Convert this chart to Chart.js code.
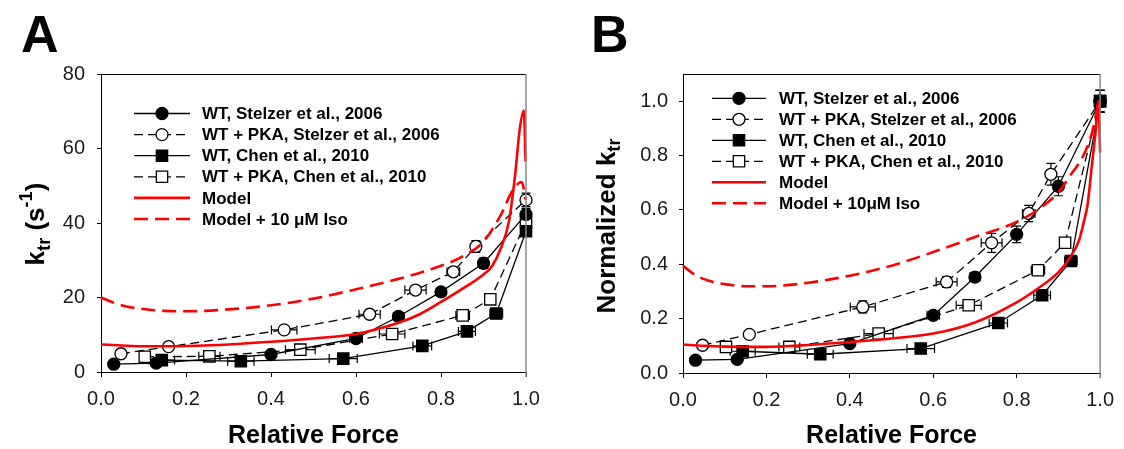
<!DOCTYPE html>
<html>
<head>
<meta charset="utf-8">
<script src="https://cdn.jsdelivr.net/npm/chart.js@4.4.0/dist/chart.umd.min.js"></script>
<style>
  body { margin: 0; background: #fff; }
  #wrap { position: relative; width: 1124px; height: 449px; font-family: "Liberation Sans", Arial, sans-serif; color: #000; }
  canvas { position: absolute; top: 0; }
  .letter { position: absolute; top: 8px; font-weight: bold; font-size: 52px; line-height: 52px; }
  .ytitle { position: absolute; font-weight: bold; font-size: 26px; line-height: 1; white-space: nowrap; transform: translate(-50%, -50%) rotate(-90deg); }
  .ytitle sub { font-size: 0.7em; vertical-align: -0.3em; }
  .ytitle sup { font-size: 0.7em; vertical-align: 0.65em; }
</style>
</head>
<body>
<div id="wrap">
  <canvas id="chartA" width="560" height="449" style="left:0;width:560px;height:449px"></canvas>
  <canvas id="chartB" width="564" height="449" style="left:560px;width:564px;height:449px"></canvas>
  <div class="letter" style="left:21px">A</div>
  <div class="letter" style="left:591px">B</div>
  <div class="ytitle" style="left:35px;top:224px">k<sub>tr</sub> (s<sup>-1</sup>)</div>
  <div class="ytitle" style="left:608px;top:226px">Normalized k<sub>tr</sub></div>
</div>
<script>
// x values (relative force), shared by both panels
const stelzerWT_force = [0.03, 0.13, 0.40, 0.60, 0.70, 0.80, 0.90, 1.0];
const stelzerPKA_force = [0.047, 0.159, 0.431, 0.632, 0.74, 0.829, 0.882, 1.0];
const chenWT_force = [0.143, 0.329, 0.570, 0.756, 0.861, 0.930, 1.0];
const chenPKA_force = [0.103, 0.255, 0.469, 0.685, 0.851, 0.916, 1.0];

// horizontal error bars (force)
const stelzerWT_forceErr = [0, 0.008, 0.01, 0.015, 0.012, 0.01, 0.01, 0];
const stelzerPKA_forceErr = [0, 0.01, 0.03, 0.025, 0.025, 0.015, 0.01, 0];
const chenWT_forceErr = [0.03, 0.031, 0.033, 0.022, 0.02, 0.015, 0];
const chenPKA_forceErr = [0.01, 0.025, 0.035, 0.03, 0.016, 0.012, 0];

// panel A: ktr (s-1)
const stelzerWT_ktr = [2.1, 2.4, 4.7, 9.0, 14.9, 21.5, 29.2, 42.3];
const stelzerPKA_ktr = [4.9, 6.8, 11.3, 15.5, 22.0, 26.9, 33.7, 46.2];
const chenWT_ktr = [3.2, 2.9, 3.6, 7.0, 10.9, 15.7, 37.8];
const chenPKA_ktr = [4.1, 4.2, 6.0, 10.2, 15.2, 19.5, 40.2];
const stelzerWT_ktrErr = [0, 0, 0, 0.5, 0.8, 0.8, 1.4, 1.6];
const stelzerPKA_ktrErr = [0, 0, 0.6, 0.8, 1.0, 1.2, 1.6, 1.8];
const chenWT_ktrErr = [0.3, 0.3, 0.3, 0.5, 0.6, 0.6, 1.0];
const chenPKA_ktrErr = [0.3, 0.3, 0.3, 0.5, 0.6, 0.8, 1.4];

const modelA_force = [0, 0.05, 0.1, 0.15, 0.2, 0.3, 0.4, 0.5, 0.6, 0.7, 0.75, 0.8, 0.85, 0.9, 0.92, 0.94, 0.96, 0.975, 0.985, 0.995, 0.999];
const modelA_ktr = [7.4, 7.1, 6.9, 6.9, 7.0, 7.4, 8.1, 9.0, 10.2, 13.2, 15.5, 18.8, 22.3, 26.2, 28.4, 33.0, 40.5, 53.5, 65.0, 70.2, 56.5];
const isoA_force = [0, 0.03, 0.06, 0.1, 0.15, 0.2, 0.3, 0.4, 0.5, 0.6, 0.7, 0.8, 0.85, 0.9, 0.94, 0.97, 0.99, 0.999];
const isoA_ktr = [20.0, 18.6, 17.6, 16.9, 16.4, 16.3, 16.8, 17.9, 19.7, 22.2, 25.0, 28.5, 31.0, 35.0, 42.0, 49.0, 51.0, 46.3];

// panel B: normalized ktr
const stelzerWT_norm = [0.047, 0.05, 0.108, 0.212, 0.353, 0.51, 0.687, 1.0];
const stelzerPKA_norm = [0.102, 0.142, 0.243, 0.335, 0.479, 0.587, 0.731, 1.0];
const chenWT_norm = [0.08, 0.069, 0.09, 0.184, 0.286, 0.412, 1.0];
const chenPKA_norm = [0.096, 0.096, 0.145, 0.249, 0.378, 0.479, 1.0];
const stelzerWT_normErr = [0, 0.005, 0.01, 0.015, 0.015, 0.03, 0.035, 0.04];
const stelzerPKA_normErr = [0.005, 0.01, 0.022, 0.02, 0.035, 0.03, 0.04, 0.04];
const chenWT_normErr = [0.01, 0.01, 0.01, 0.01, 0.015, 0.015, 0.04];
const chenPKA_normErr = [0.01, 0.01, 0.01, 0.015, 0.015, 0.015, 0.04];

const modelB_force = [0, 0.05, 0.1, 0.2, 0.3, 0.4, 0.5, 0.6, 0.7, 0.8, 0.85, 0.9, 0.93, 0.95, 0.96, 0.97, 0.98, 0.99, 0.996, 1.0];
const modelB_norm = [0.105, 0.100, 0.097, 0.096, 0.103, 0.114, 0.127, 0.145, 0.186, 0.26, 0.31, 0.37, 0.43, 0.49, 0.55, 0.62, 0.76, 0.9, 1.0, 0.81];
const isoB_force = [0, 0.03, 0.06, 0.1, 0.15, 0.2, 0.3, 0.4, 0.5, 0.6, 0.7, 0.8, 0.85, 0.9, 0.93, 0.96, 0.98, 0.99, 0.996];
const isoB_norm = [0.394, 0.36, 0.34, 0.327, 0.319, 0.319, 0.332, 0.358, 0.395, 0.445, 0.50, 0.556, 0.60, 0.665, 0.73, 0.80, 0.88, 0.95, 1.0];

const labelsA = ['WT, Stelzer et al., 2006', 'WT + PKA, Stelzer et al., 2006', 'WT, Chen et al., 2010', 'WT + PKA, Chen et al., 2010', 'Model', 'Model + 10 \u03bcM Iso'];
const labelsB = ['WT, Stelzer et al., 2006', 'WT + PKA, Stelzer et al., 2006', 'WT, Chen et al., 2010', 'WT + PKA, Chen et al., 2010', 'Model', 'Model + 10\u03bcM Iso'];

const FONT = '"Liberation Sans", Arial, sans-serif';

function pts(xs, ys) {
	return xs.map((x, i) => ({x: x, y: ys[i]}));
}

function dataSet(label, xs, ys, filled, style, dashed) {
	return {
		label: label,
		data: pts(xs, ys),
		showLine: true,
		borderColor: '#000',
		borderWidth: 1.3,
		borderDash: dashed ? [9, 5] : [],
		pointStyle: style,
		pointRadius: style == 'rect' ? 8 : 6,
		pointBackgroundColor: filled ? '#000' : '#fff',
		pointBorderColor: '#000',
		pointBorderWidth: 1.3,
		tension: 0,
		clip: false,
		order: 1
	};
}

function modelSet(label, xs, ys, dashed) {
	return {
		label: label,
		data: pts(xs, ys),
		showLine: true,
		borderColor: '#ff0000',
		borderWidth: 2.6,
		borderDash: dashed ? [14, 7] : [],
		pointRadius: 0,
		cubicInterpolationMode: 'monotone',
		clip: false,
		order: 0
	};
}

// error bars, box frame and the legend
function extrasPlugin(errs, legend) {
	return {
		id: 'extras',
		beforeDatasetsDraw(chart) {
			const ctx = chart.ctx, xs = chart.scales.x, ys = chart.scales.y;
			ctx.save();
			ctx.strokeStyle = '#000';
			ctx.lineWidth = 1.2;
			errs.forEach((e, di) => {
				chart.data.datasets[di].data.forEach((p, i) => {
					const px = xs.getPixelForValue(p.x), py = ys.getPixelForValue(p.y);
					const ex = e.x[i], ey = e.y[i];
					ctx.beginPath();
					if (ex) {
						const x1 = xs.getPixelForValue(p.x - ex), x2 = xs.getPixelForValue(p.x + ex);
						ctx.moveTo(x1, py); ctx.lineTo(x2, py);
						ctx.moveTo(x1, py - 4.5); ctx.lineTo(x1, py + 4.5);
						ctx.moveTo(x2, py - 4.5); ctx.lineTo(x2, py + 4.5);
					}
					if (ey) {
						const y1 = ys.getPixelForValue(p.y - ey), y2 = ys.getPixelForValue(p.y + ey);
						ctx.moveTo(px, y1); ctx.lineTo(px, y2);
						ctx.moveTo(px - 4.5, y1); ctx.lineTo(px + 4.5, y1);
						ctx.moveTo(px - 4.5, y2); ctx.lineTo(px + 4.5, y2);
					}
					ctx.stroke();
				});
			});
			ctx.restore();
		},
		afterDraw(chart) {
			const ctx = chart.ctx, a = chart.chartArea;
			ctx.save();
			ctx.lineWidth = 1;
			ctx.strokeStyle = '#000';
			ctx.beginPath();
			ctx.moveTo(a.left, Math.round(a.top) + 0.5);
			ctx.lineTo(a.right, Math.round(a.top) + 0.5);
			ctx.stroke();
			ctx.strokeStyle = '#8a8a8a';
			ctx.lineWidth = 1.5;
			ctx.beginPath();
			ctx.moveTo(a.right, a.top);
			ctx.lineTo(a.right, a.bottom + 5);
			ctx.stroke();

			// legend
			ctx.font = 'bold 17px ' + FONT;
			ctx.textBaseline = 'middle';
			ctx.textAlign = 'left';
			chart.data.datasets.forEach((ds, i) => {
				const y = legend.top + i * legend.step;
				ctx.strokeStyle = ds.borderColor;
				ctx.lineWidth = ds.borderWidth;
				ctx.setLineDash(ds.borderDash || []);
				ctx.beginPath();
				ctx.moveTo(legend.x1, y);
				ctx.lineTo(legend.x2, y);
				ctx.stroke();
				ctx.setLineDash([]);
				if (ds.pointRadius) {
					ctx.fillStyle = ds.pointBackgroundColor;
					ctx.strokeStyle = ds.pointBorderColor;
					ctx.lineWidth = ds.pointBorderWidth;
					Chart.helpers.drawPoint(ctx, {pointStyle: ds.pointStyle, radius: ds.pointRadius, rotation: 0, borderWidth: ds.pointBorderWidth}, (legend.x1 + legend.x2) / 2, y);
				}
				ctx.fillStyle = '#000';
				ctx.fillText(legend.labels[i], legend.tx, y + 1);
			});
			ctx.restore();
		}
	};
}

function makeChart(id, datasets, errs, legend, yOpts, xBoxHeight, yBoxWidth, padRight) {
	return new Chart(document.getElementById(id).getContext('2d'), {
		type: 'scatter',
		data: {datasets: datasets},
		options: {
			responsive: false,
			animation: false,
			events: [],
			layout: {padding: {left: 0, top: 74, right: padRight, bottom: 0}},
			plugins: {legend: {display: false}, tooltip: {enabled: false}},
			scales: {
				x: {
					type: 'linear', min: 0, max: 1,
					ticks: {stepSize: 0.2, color: '#1a1a1a', font: {family: FONT, size: 20}, padding: 10, maxRotation: 0,
						callback: v => v.toFixed(1)},
					grid: {drawOnChartArea: false, tickLength: 5, color: '#000'},
					border: {color: '#000', width: 1},
					title: {display: true, text: 'Relative Force', color: '#000',
						font: {family: FONT, size: 25, weight: 'bold', lineHeight: 1}, padding: {top: 0, bottom: 0}},
					afterFit(s) { s.height = xBoxHeight; }
				},
				y: Object.assign({
					type: 'linear',
					grid: {drawOnChartArea: false, tickLength: 4, color: '#000'},
					border: {color: '#000', width: 1},
					afterFit(s) { s.width = yBoxWidth; }
				}, yOpts)
			}
		},
		plugins: [extrasPlugin(errs, legend)]
	});
}

// Panel A
makeChart('chartA', [
	dataSet(labelsA[0], stelzerWT_force, stelzerWT_ktr, true, 'circle', false),
	dataSet(labelsA[1], stelzerPKA_force, stelzerPKA_ktr, false, 'circle', true),
	dataSet(labelsA[2], chenWT_force, chenWT_ktr, true, 'rect', false),
	dataSet(labelsA[3], chenPKA_force, chenPKA_ktr, false, 'rect', true),
	modelSet(labelsA[4], modelA_force, modelA_ktr, false),
	modelSet(labelsA[5], isoA_force, isoA_ktr, true)
], [
	{x: stelzerWT_forceErr, y: stelzerWT_ktrErr},
	{x: stelzerPKA_forceErr, y: stelzerPKA_ktrErr},
	{x: chenWT_forceErr, y: chenWT_ktrErr},
	{x: chenPKA_forceErr, y: chenPKA_ktrErr}
], {top: 113.5, step: 21.1, x1: 134, x2: 190, tx: 202, labels: labelsA}, {
	min: 0, max: 80,
	ticks: {stepSize: 20, color: '#1a1a1a', font: {family: FONT, size: 20}, padding: 12}
}, 77, 101, 34);

// Panel B
makeChart('chartB', [
	dataSet(labelsB[0], stelzerWT_force, stelzerWT_norm, true, 'circle', false),
	dataSet(labelsB[1], stelzerPKA_force, stelzerPKA_norm, false, 'circle', true),
	dataSet(labelsB[2], chenWT_force, chenWT_norm, true, 'rect', false),
	dataSet(labelsB[3], chenPKA_force, chenPKA_norm, false, 'rect', true),
	modelSet(labelsB[4], modelB_force, modelB_norm, false),
	modelSet(labelsB[5], isoB_force, isoB_norm, true)
], [
	{x: stelzerWT_forceErr, y: stelzerWT_normErr},
	{x: stelzerPKA_forceErr, y: stelzerPKA_normErr},
	{x: chenWT_forceErr, y: chenWT_normErr},
	{x: chenPKA_forceErr, y: chenPKA_normErr}
], {top: 98.3, step: 21, x1: 152, x2: 206, tx: 219, labels: labelsB}, {
	min: 0, max: 1.1,
	ticks: {stepSize: 0.2, color: '#1a1a1a', font: {family: FONT, size: 20}, padding: 11, callback: v => v.toFixed(1)},
	afterBuildTicks(s) { s.ticks = s.ticks.filter(t => t.value <= 1.0001); }
}, 76, 123, 14);
</script>
</body>
</html>
